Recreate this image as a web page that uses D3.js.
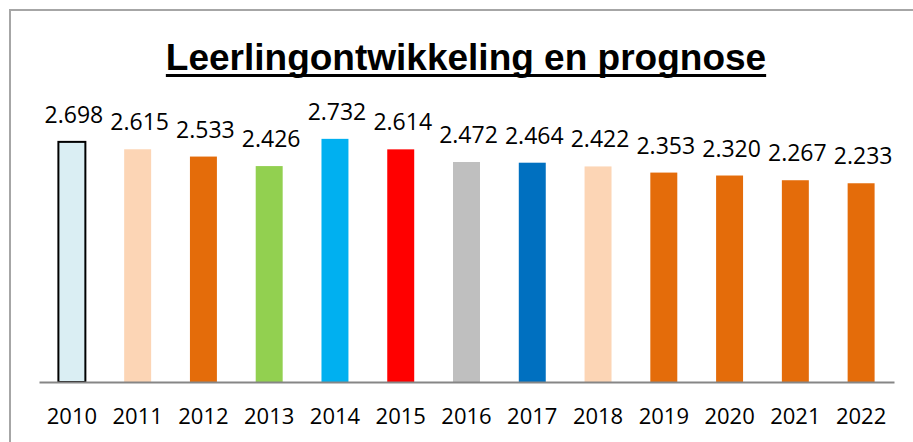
<!DOCTYPE html>
<html>
<head>
<meta charset="utf-8">
<script src="https://cdn.jsdelivr.net/npm/d3@7"></script>
<style>
  body { margin: 0; background: #fff; }
  text { font-family: "Open Sans", "Liberation Sans", Arial, sans-serif; }
</style>
</head>
<body>
<svg id="chart" width="913" height="442"></svg>
<script>
// chart data
const years = ["2010", "2011", "2012", "2013", "2014", "2015", "2016", "2017", "2018", "2019", "2020", "2021", "2022"];
const pupils = [2.698, 2.615, 2.533, 2.426, 2.732, 2.614, 2.472, 2.464, 2.422, 2.353, 2.320, 2.267, 2.233];
const barColors = ["#DAEEF3", "#FCD5B5", "#E46C0A", "#92D050", "#00B0F0", "#FF0000", "#BFBFBF", "#0070C0", "#FCD5B5", "#E46C0A", "#E46C0A", "#E46C0A", "#E46C0A"];
const title = "Leerlingontwikkeling en prognose";

const svg = d3.select("#chart");

// outer frame (right and bottom edges are outside the picture)
svg.append("rect")
  .attr("x", 10).attr("y", 10)
  .attr("width", 920).attr("height", 450)
  .attr("fill", "none")
  .attr("stroke", "#A6A6A6")
  .attr("stroke-width", 2);

const x = d3.scaleBand()
  .domain(years)
  .range([39, 894])
  .paddingInner(0.59)
  .paddingOuter(0.295);

const y = d3.scaleLinear()
  .domain([0, 3])
  .range([382, 115]);

// title with underline
const t = svg.append("text")
  .attr("x", 466)
  .attr("y", 70)
  .attr("text-anchor", "middle")
  .style("font-family", "'Liberation Sans', Arial, sans-serif")
  .style("font-size", "37px")
  .style("font-weight", "bold")
  .text(title);
const tb = t.node().getBBox();
svg.append("rect")
  .attr("x", tb.x).attr("y", 74)
  .attr("width", tb.width).attr("height", 3)
  .attr("fill", "#000");

// bars
svg.selectAll("rect.bar")
  .data(pupils)
  .join("rect")
  .attr("class", "bar")
  .attr("x", (d, i) => x(years[i]))
  .attr("y", d => y(d))
  .attr("width", x.bandwidth())
  .attr("height", d => y(0) - y(d))
  .attr("fill", (d, i) => barColors[i])
  .attr("stroke", (d, i) => i === 0 ? "#000" : "none")
  .attr("stroke-width", 2);

// value labels
svg.selectAll("text.val")
  .data(pupils)
  .join("text")
  .attr("class", "val")
  .attr("x", (d, i) => x(years[i]) + x.bandwidth() / 2 + 2)
  .attr("y", d => y(d) - 19)
  .attr("text-anchor", "middle")
  .style("font-size", "23px")
  .attr("fill", "#000")
  .text(d => d3.format(".3f")(d));

// x axis
const axis = svg.append("g")
  .attr("transform", "translate(0,382)")
  .call(d3.axisBottom(x).tickSize(0).tickPadding(26));
axis.select(".domain").attr("stroke", "#868686").attr("stroke-width", 2);
axis.selectAll("text")
  .style("font-size", "22px")
  .attr("fill", "#000")
  .attr("font-family", "Open Sans, Liberation Sans, Arial, sans-serif");
</script>
</body>
</html>
